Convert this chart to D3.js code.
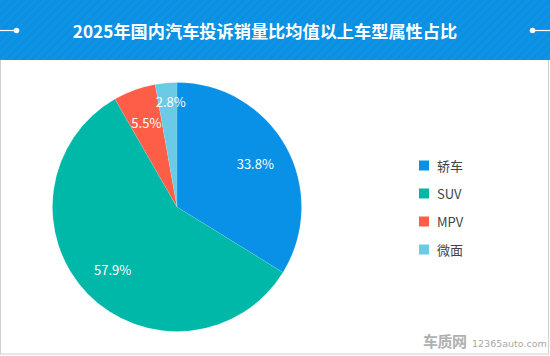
<!DOCTYPE html>
<html><head><meta charset="utf-8">
<script src="https://cdn.jsdelivr.net/npm/d3@7"></script>
<style>html,body{margin:0;padding:0;background:#fff;}svg{display:block;}</style>
</head><body>
<svg id="c" width="550" height="356"></svg>
<script>
const title = "2025年国内汽车投诉销量比均值以上车型属性占比";
const categories = ["轿车", "SUV", "MPV", "微面"];
const values = [33.8, 57.9, 5.5, 2.8];
const colors = ["#0891e6", "#00b8a8", "#fe5e48", "#6bcae5"];

const W = 550, H = 356;
const svg = d3.select("#c");
const font = "'Noto Sans CJK SC','Noto Sans',sans-serif";

// header stripes pattern
const defs = svg.append("defs");
const pat = defs.append("pattern").attr("id","stripe").attr("patternUnits","userSpaceOnUse")
  .attr("width",6).attr("height",6).attr("patternTransform","rotate(45)");
pat.append("rect").attr("width",6).attr("height",6).attr("fill","#0a8fe2");
pat.append("rect").attr("width",3).attr("height",6).attr("fill","#0f93e4");

// frame
svg.append("rect").attr("x",0.5).attr("y",0.5).attr("width",W-2).attr("height",353.5)
  .attr("fill","#fff").attr("stroke","#cfcfcf").attr("stroke-width",1);
svg.append("rect").attr("x",0).attr("y",0).attr("width",W).attr("height",60).attr("fill","url(#stripe)");

// header decorations
svg.append("line").attr("x1",0).attr("x2",16).attr("y1",30.5).attr("y2",30.5).attr("stroke","#fff").attr("stroke-width",1.2);
svg.append("circle").attr("cx",16.5).attr("cy",30.5).attr("r",2.8).attr("fill","#fff");
svg.append("line").attr("x1",533).attr("x2",W).attr("y1",30.5).attr("y2",30.5).attr("stroke","#fff").attr("stroke-width",1.2);
svg.append("circle").attr("cx",532.5).attr("cy",30.5).attr("r",2.8).attr("fill","#fff");

svg.append("text").attr("x",265).attr("y",30.5).attr("text-anchor","middle").attr("dominant-baseline","central")
  .attr("fill","#fff").attr("font-family",font).attr("font-weight","bold").attr("font-size",17.2).text(title);

// pie
const cx = 177, cy = 207, R = 124.5;
const data = categories.map((c,i)=>({cat:c, value:values[i], color:colors[i]}));
const pie = d3.pie().sort(null).value(d=>d.value);
const arcs = pie(data);
const arc = d3.arc().innerRadius(0).outerRadius(R);
const g = svg.append("g").attr("transform",`translate(${cx},${cy})`);
g.selectAll("path").data(arcs).join("path").attr("d",arc).attr("fill",d=>d.data.color)
  .attr("stroke","#fff").attr("stroke-width",0.3).attr("stroke-opacity",0.35);

const labelArc = d3.arc().innerRadius(R*0.72).outerRadius(R*0.72);
const smallArc = d3.arc().innerRadius(R*0.85).outerRadius(R*0.85);
g.selectAll("text.lbl").data(arcs).join("text").attr("class","lbl")
  .attr("transform",d=>{const p=(d.data.value<4?smallArc:labelArc).centroid(d);return `translate(${p[0]+(d.data.value<4?3:0)},${p[1]})`;})
  .attr("text-anchor","middle").attr("dominant-baseline","central")
  .attr("fill","#fff").attr("font-family",font).attr("font-size",13)
  .text(d=>d3.format(".1f")(d.data.value)+"%");

// legend
const ly = d3.scalePoint().domain(categories).range([165.5, 249.5]);
const lg = svg.append("g");
const items = lg.selectAll("g").data(data).join("g").attr("transform",d=>`translate(419,${ly(d.cat)})`);
items.append("rect").attr("x",0).attr("y",-5).attr("width",10).attr("height",10).attr("fill",d=>d.color);
items.append("text").attr("x",18).attr("y",0).attr("dominant-baseline","central")
  .attr("fill","#444").attr("font-family",font).attr("font-size",13).text(d=>d.cat);

// watermark
svg.append("text").attr("x",423).attr("y",347).attr("fill","#b0b0b0").attr("font-family",font)
  .attr("font-weight","bold").attr("font-size",15).attr("letter-spacing",-0.5).text("车质网");
svg.append("text").attr("x",472).attr("y",347).attr("fill","#a8a8a8").attr("font-family","'DejaVu Sans',sans-serif")
  .attr("font-size",9.5).text("12365auto.com");
</script>
</body></html>
